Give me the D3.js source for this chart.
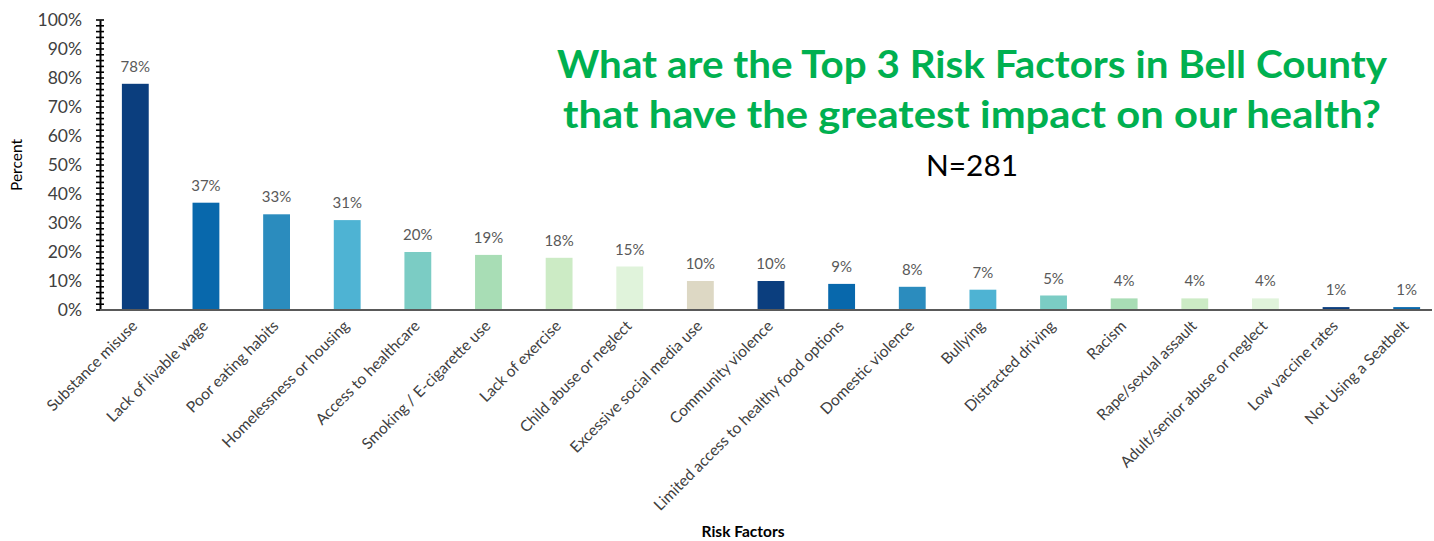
<!DOCTYPE html>
<html><head><meta charset="utf-8">
<script src="https://cdn.jsdelivr.net/npm/d3@7"></script>
<style>body{margin:0;background:#fff;} svg{display:block;}</style>
</head><body>
<svg id="chart" width="1434" height="541"></svg>
<script>
const categories = ["Substance misuse","Lack of livable wage","Poor eating habits","Homelessness or housing","Access to healthcare","Smoking / E-cigarette use","Lack of exercise","Child abuse or neglect","Excessive social media use","Community violence","Limited access to healthy food options","Domestic violence","Bullying","Distracted driving","Racism","Rape/sexual assault","Adult/senior abuse or neglect","Low vaccine rates","Not Using a Seatbelt"];
const values = [78,37,33,31,20,19,18,15,10,10,9,8,7,5,4,4,4,1,1];
const barColors = ["#0b3e7e","#0868ac","#2b8cbe","#4eb3d3","#7bccc4","#a8ddb5","#ccebc5","#e0f3db","#ddd8c4","#0b3e7e","#0868ac","#2b8cbe","#4eb3d3","#7bccc4","#a8ddb5","#ccebc5","#e0f3db","#0b3e7e","#0868ac"];
const yTicks = [0,10,20,30,40,50,60,70,80,90,100];
const titleLines = ["What are the Top 3 Risk Factors in Bell County","that have the greatest impact on our health?"];
const subtitle = "N=281";

const FONT = "Lato, 'Open Sans', sans-serif";
const svg = d3.select("#chart");
const x = d3.scaleBand().domain(categories).range([100,1442]).paddingInner(0.62).paddingOuter(0.31);
const y = d3.scaleLinear().domain([0,100]).range([310,20]);

// bars
svg.append("g").selectAll("rect").data(values).join("rect")
  .attr("x",(d,i)=>x(categories[i]))
  .attr("width",x.bandwidth())
  .attr("y",d=>y(d))
  .attr("height",d=>y(0)-y(d))
  .attr("fill",(d,i)=>barColors[i]);

// data labels
svg.append("g").selectAll("text").data(values).join("text")
  .attr("x",(d,i)=>x(categories[i])+x.bandwidth()/2)
  .attr("y",d=>y(d)-12)
  .attr("text-anchor","middle")
  .attr("font-family",FONT)
  .attr("font-size",15)
  .attr("fill","#595959")
  .text(d=>d+"%");

// y axis
const yAxis = d3.axisLeft(y).tickValues(yTicks).tickFormat(d=>d+"%").tickSize(0).tickPadding(18);
const gy = svg.append("g").attr("transform","translate(100,0)").call(yAxis);
gy.select(".domain").attr("stroke","#000").attr("stroke-width",2);
gy.selectAll("text").attr("font-family",FONT).attr("font-size",17.5).attr("fill","#404040");
// minor cross ticks every 2%
const minor = d3.range(0,101,2);
svg.append("g").selectAll("line").data(minor).join("line")
  .attr("x1",96).attr("x2",104)
  .attr("y1",d=>y(d)).attr("y2",d=>y(d))
  .attr("stroke","#000").attr("stroke-width",1.6);

// x axis
const xAxis = d3.axisBottom(x).tickSize(0).tickPadding(0);
const gx = svg.append("g").attr("transform","translate(0,310)").call(xAxis);
gx.select(".domain").attr("d","M100,0H1432").attr("stroke","#595959").attr("stroke-width",2);
gx.selectAll("text")
  .attr("font-family",FONT).attr("font-size",15.5).attr("fill","#404040")
  .attr("text-anchor","end")
  .attr("dy",0)
  .attr("transform","translate(3,17) rotate(-45)");

// axis titles
svg.append("text").attr("transform","translate(22,165) rotate(-90)")
  .attr("text-anchor","middle").attr("font-family",FONT).attr("font-size",15.5).attr("fill","#000").text("Percent");
svg.append("text").attr("x",743).attr("y",537).attr("text-anchor","middle")
  .attr("font-family",FONT).attr("font-weight","bold").attr("font-size",15.5).attr("fill","#000").text("Risk Factors");

// title
svg.append("g").selectAll("text").data(titleLines).join("text")
  .attr("x",972).attr("y",(d,i)=>78+i*50)
  .attr("text-anchor","middle")
  .attr("font-family",FONT).attr("font-weight","bold").attr("font-size",38)
  .attr("fill","#00b050")
  .attr("textLength",(d,i)=>i===0?830:818).attr("lengthAdjust","spacingAndGlyphs")
  .text(d=>d);
svg.append("text").attr("x",972).attr("y",176).attr("text-anchor","middle")
  .attr("font-family",FONT).attr("font-size",28).attr("fill","#000")
  .attr("textLength",92).attr("lengthAdjust","spacingAndGlyphs")
  .text(subtitle);
</script>
</body></html>
